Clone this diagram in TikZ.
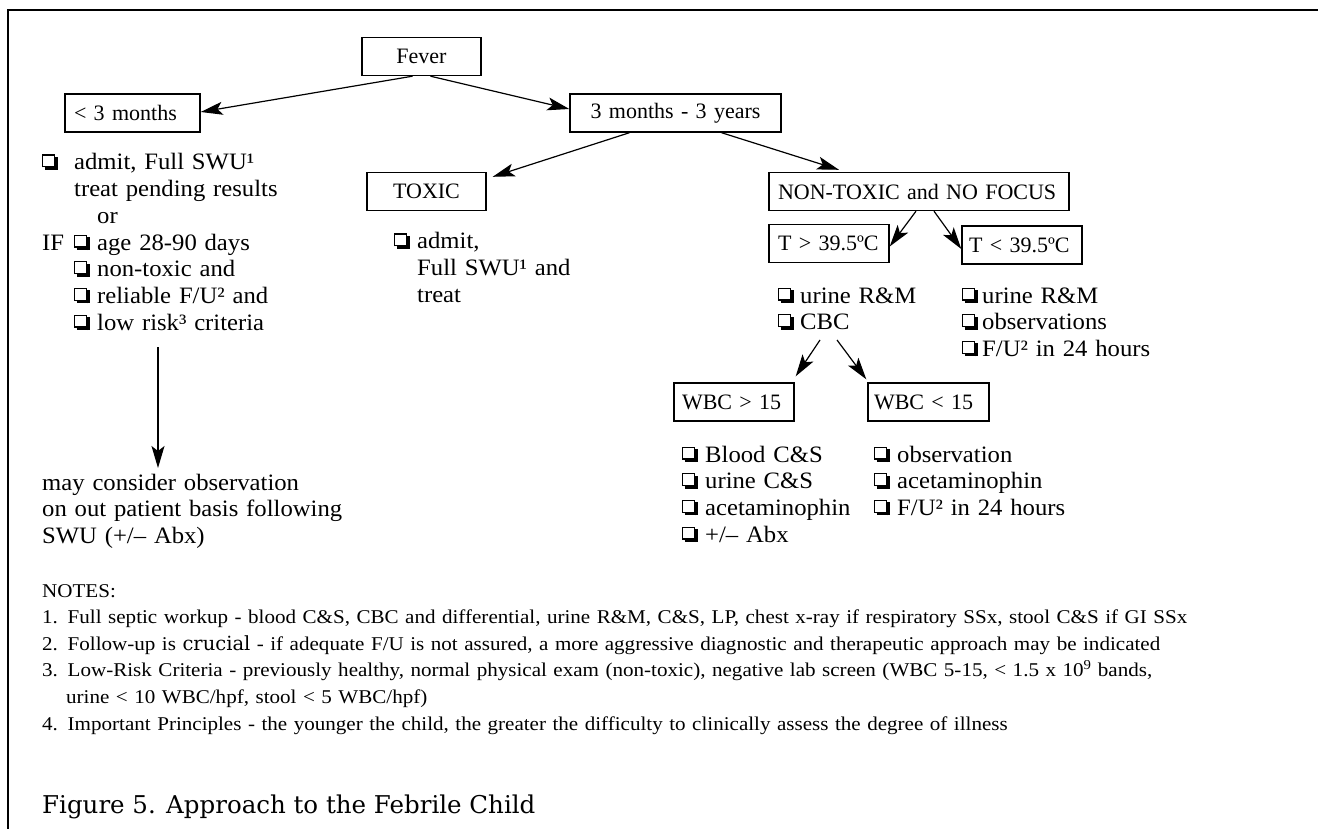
\documentclass[tikz,border=0pt]{standalone}
\usepackage{fontspec}
\usetikzlibrary{arrows.meta}
\newfontfamily\bxfam{Liberation Serif}
\newfontfamily\bdfam[FakeStretch=1.05]{Liberation Serif}
\newfontfamily\ntfam[FakeStretch=1.08]{Liberation Serif}
\newfontfamily\capfam{DejaVu Serif}
\newcommand\bxf{\bxfam\fontsize{22}{26}\selectfont}
\newcommand\bdf{\bdfam\fontsize{23.5}{26.67}\selectfont}
\newcommand\ntf{\ntfam\fontsize{19.5}{26.6}\selectfont}
\newcommand\cb{\begin{picture}(15.5,15.5)%
\put(0,2.5){\rule{1.2pt}{13pt}}%
\put(0,14.3){\rule{13pt}{1.2pt}}%
\put(11.8,2.5){\rule{1.2pt}{13pt}}%
\put(0,2.5){\rule{13pt}{1.2pt}}%
\put(2.5,0){\rule{13pt}{2.5pt}}%
\put(13,0){\rule{2.5pt}{13pt}}%
\end{picture}}
\newcommand\cbw[1]{\makebox[#1][l]{\cb}}
\tikzset{
  box/.style={draw, line width=1.4pt, font=\bxf, inner ysep=0pt, minimum height=38pt},
  cbox/.style={box, text width=#1, inner xsep=0pt, align=center},
  lbox/.style 2 args={box, text width=#1, inner xsep=#2, align=left},
  txt/.style={anchor=base west, inner sep=0pt, align=left, text width=#1, font=\bdf},
  arr/.style={-{Stealth[length=22pt,width=13pt,inset=5pt]}, line width=1.2pt},
}
\begin{document}
\begin{tikzpicture}[x=1pt,y=-1pt]
\useasboundingbox (0,0) rectangle (1318,829);
\draw[line width=1.5pt] (8,829) -- (8,10) -- (1318,10);

% boxes
\node[cbox=119pt] (fever) at (421.5,56.5) {Fever};
\node[lbox={117pt}{9pt}] (lt3) at (132.5,113) {\mbox{< 3 months}};
\node[cbox=211pt] (mid) at (675.5,113) {\mbox{3 months - 3 years}};
\node[cbox=119pt] (toxic) at (426.5,191.5) {TOXIC};
\node[lbox={282pt}{9pt}] (nontox) at (919,191.5) {\mbox{NON-TOXIC and NO FOCUS}};
\node[lbox={102pt}{9pt}] (tgt) at (829,243.5) {\mbox{T > 39.5ºC}};
\node[lbox={106pt}{7pt}] (tlt) at (1022,245) {\mbox{T < 39.5ºC}};
\node[lbox={104pt}{8pt}] (wgt) at (734,402) {\mbox{WBC > 15}};
\node[lbox={109pt}{6pt}] (wlt) at (928.5,402) {\mbox{WBC < 15}};

% text blocks
\node[txt=420pt] (lefttxt) at (42,170) {\cbw{32pt}admit, Full SWU¹\\
\hspace*{32pt}treat pending results\\
\hspace*{55pt}or\\
\makebox[32pt][l]{IF}\cbw{23pt}age 28-90 days\\
\hspace*{32pt}\cbw{23pt}non-toxic and\\
\hspace*{32pt}\cbw{23pt}reliable F/U² and\\
\hspace*{32pt}\cbw{23pt}low risk³ criteria};
\node[txt=420pt] (obs) at (42,490) {may consider observation\\
on out patient basis following\\
SWU (+/– Abx)};
\node[txt=250pt] (toxtxt) at (394,249) {\cbw{23pt}admit,\\
\hspace*{23pt}Full SWU¹ and\\
\hspace*{23pt}treat};
\node[txt=170pt] (tgttxt) at (778,303) {\cbw{22pt}urine R\&M\\
\cbw{22pt}CBC};
\node[txt=250pt] (tlttxt) at (962,303) {\cbw{20pt}urine R\&M\\
\cbw{20pt}observations\\
\cbw{20pt}F/U² in 24 hours};
\node[txt=190pt] (wgttxt) at (682,462) {\cbw{23pt}Blood C\&S\\
\cbw{23pt}urine C\&S\\
\cbw{23pt}acetaminophin\\
\cbw{23pt}+/– Abx};
\node[txt=250pt] (wlttxt) at (874,462) {\cbw{23pt}observation\\
\cbw{23pt}acetaminophin\\
\cbw{23pt}F/U² in 24 hours};

\node[txt=1270pt, font=\ntf] (notes) at (42,597) {NOTES:\\
1. Full septic workup - blood C\&S, CBC and differential, urine R\&M, C\&S, LP, chest x-ray if respiratory SSx, stool C\&S if GI SSx\\
2. Follow-up is {\capfam crucial} - if adequate F/U is not assured, a more aggressive diagnostic and therapeutic approach may be indicated\\
3. Low-Risk Criteria - previously healthy, normal physical exam (non-toxic), negative lab screen (WBC 5-15, < 1.5 x 10\textsuperscript{9} bands,\\
\hspace*{24pt}urine < 10 WBC/hpf, stool < 5 WBC/hpf)\\
4. Important Principles - the younger the child, the greater the difficulty to clinically assess the degree of illness};

\node[anchor=base west, inner sep=0pt, font=\capfam\fontsize{24.5}{28}\selectfont] (cap) at (42,813) {Figure 5. Approach to the Febrile Child};

% connectors
\draw[arr] ([xshift=-9pt]fever.south) -- ([yshift=1pt]lt3.east);
\draw[arr] ([xshift=9pt]fever.south) -- ([yshift=4pt]mid.west);
\draw[arr] ([xshift=-46pt]mid.south) -- ([xshift=6pt,yshift=-5pt]toxic.north east);
\draw[arr] ([xshift=46pt]mid.south) -- ([xshift=-80pt,yshift=2pt]nontox.north);
\draw[arr] ([xshift=-3pt]nontox.south) -- ([yshift=-3pt]tgt.east);
\draw[arr] ([xshift=15pt]nontox.south) -- ([yshift=-4pt]tlt.west);
\coordinate (c1) at (820,340);
\coordinate (c2) at (837,340);
\draw[arr] (c1) -- ([xshift=1pt,yshift=6pt]wgt.north east);
\draw[arr] (c2) -- ([xshift=-1pt,yshift=3pt]wlt.north west);
\coordinate (la) at (158,347);
\coordinate (lb) at (158,468);
\draw[arr] (la) -- (lb);
\end{tikzpicture}
\end{document}
